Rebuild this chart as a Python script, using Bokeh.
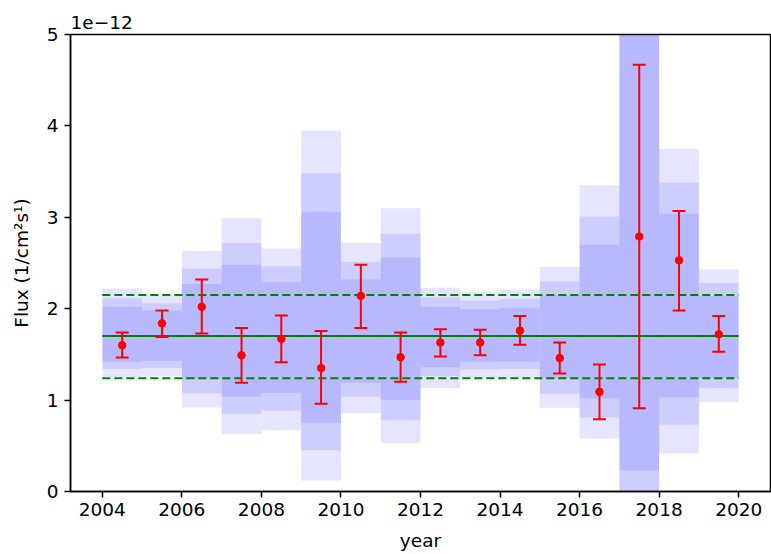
from bokeh.plotting import figure
from bokeh.models import FixedTicker, Whisker, TeeHead, ColumnDataSource, Range1d
from bokeh.embed import file_html
from bokeh.resources import INLINE

# Yearly bins (start year of each bin); flux in units of 1e-12 1/cm^2 s
years = [2004, 2005, 2006, 2007, 2008, 2009, 2010, 2011,
         2012, 2013, 2014, 2015, 2016, 2017, 2018, 2019]
flux = [1.60, 1.84, 2.02, 1.49, 1.67, 1.35, 2.14, 1.47,
        1.63, 1.63, 1.76, 1.46, 1.09, 2.79, 2.53, 1.72]
flux_hi = [1.74, 1.98, 2.32, 1.79, 1.925, 1.755, 2.48, 1.74,
           1.776, 1.77, 1.92, 1.63, 1.39, 4.67, 3.07, 1.92]
flux_lo = [1.466, 1.69, 1.73, 1.19, 1.415, 0.96, 1.79, 1.20,
           1.477, 1.49, 1.605, 1.29, 0.79, 0.91, 1.98, 1.53]

# Expected variability bands (inner / middle / outer)
inner_hi = [2.02, 1.98, 2.27, 2.48, 2.29, 3.06, 2.32, 2.56,
            2.02, 1.995, 2.01, 2.15, 2.70, 5.6, 3.04, 2.14]
inner_lo = [1.42, 1.43, 1.23, 1.04, 1.08, 0.75, 1.19, 1.00,
            1.36, 1.42, 1.425, 1.24, 1.02, 0.23, 1.03, 1.24]
mid_hi = [2.115, 2.06, 2.44, 2.72, 2.465, 3.48, 2.51, 2.82,
          2.125, 2.09, 2.11, 2.30, 3.01, 6.2, 3.38, 2.28]
mid_lo = [1.34, 1.35, 1.075, 0.845, 0.886, 0.45, 1.04, 0.78,
          1.26, 1.335, 1.34, 1.07, 0.81, -0.3, 0.73, 1.13]
outer_hi = [2.22, 2.15, 2.63, 2.99, 2.66, 3.95, 2.72, 3.10,
            2.23, 2.18, 2.21, 2.46, 3.35, 6.8, 3.75, 2.43]
outer_lo = [1.25, 1.265, 0.92, 0.63, 0.67, 0.12, 0.86, 0.53,
            1.13, 1.24, 1.24, 0.915, 0.58, -0.8, 0.415, 0.98]

mean_flux = 1.70
mean_hi = 2.15
mean_lo = 1.24

x_ticks = [2004, 2006, 2008, 2010, 2012, 2014, 2016, 2018, 2020]
y_ticks = [0, 1, 2, 3, 4, 5]

FONT = "DejaVu Sans"
FS = "18.5px"

p = figure(width=771, height=554, output_backend="svg", toolbar_location=None,
           x_range=Range1d(2003.2, 2020.8), y_range=Range1d(0, 5),
           title="1e\u221212",
           min_border_left=70, min_border_right=1, min_border_top=34, min_border_bottom=63)

left = years
right = [y + 1 for y in years]
centers = [y + 0.5 for y in years]

for lo, hi in ((outer_lo, outer_hi), (mid_lo, mid_hi), (inner_lo, inner_hi)):
    p.quad(left=left, right=right, bottom=lo, top=hi,
           fill_color="#0000ff", fill_alpha=0.1, line_color=None)

x0 = years[0]
x1 = right[-1]
p.segment(x0=[x0], x1=[x1], y0=[mean_flux], y1=[mean_flux], line_color="green", line_width=2)
p.segment(x0=[x0, x0], x1=[x1, x1], y0=[mean_hi, mean_lo], y1=[mean_hi, mean_lo],
          line_color="green", line_width=2, line_dash="8 4")

src = ColumnDataSource(dict(x=centers, y=flux, lo=flux_lo, hi=flux_hi))
w = Whisker(base="x", upper="hi", lower="lo", source=src,
            line_color="red", line_width=2, level="annotation",
            upper_head=TeeHead(size=13, line_color="red", line_width=2),
            lower_head=TeeHead(size=13, line_color="red", line_width=2))
p.add_layout(w)
p.scatter(x="x", y="y", source=src, size=7.5, color="red")

p.xgrid.visible = False
p.ygrid.visible = False
p.outline_line_color = "black"
p.outline_line_width = 1.5
p.outline_line_alpha = 1

p.xaxis.ticker = FixedTicker(ticks=x_ticks)
p.yaxis.ticker = FixedTicker(ticks=y_ticks)
p.xaxis.axis_label = "year"
p.yaxis.axis_label = "Flux (1/cm\u00b2s\u00b9)"
for ax in (p.xaxis, p.yaxis):
    ax.axis_line_color = "black"
    ax.axis_line_width = 1.5
    ax.major_tick_line_color = "black"
    ax.major_tick_line_width = 1.5
    ax.major_tick_out = 6
    ax.major_tick_in = 0
    ax.minor_tick_line_color = None
    ax.major_label_text_font = FONT
    ax.major_label_text_font_size = FS
    ax.major_label_text_color = "black"
    ax.axis_label_text_font = FONT
    ax.axis_label_text_font_size = FS
    ax.axis_label_text_font_style = "normal"
    ax.axis_label_text_color = "black"
p.xaxis.major_label_standoff = 5
p.yaxis.major_label_standoff = 6
p.xaxis.axis_label_standoff = 11
p.yaxis.axis_label_standoff = 12

p.title.text_font = FONT
p.title.text_font_size = FS
p.title.text_font_style = "normal"
p.title.text_color = "black"
p.title.align = "left"
p.title.standoff = 12

open("out.html", "w").write(file_html(p, INLINE))
